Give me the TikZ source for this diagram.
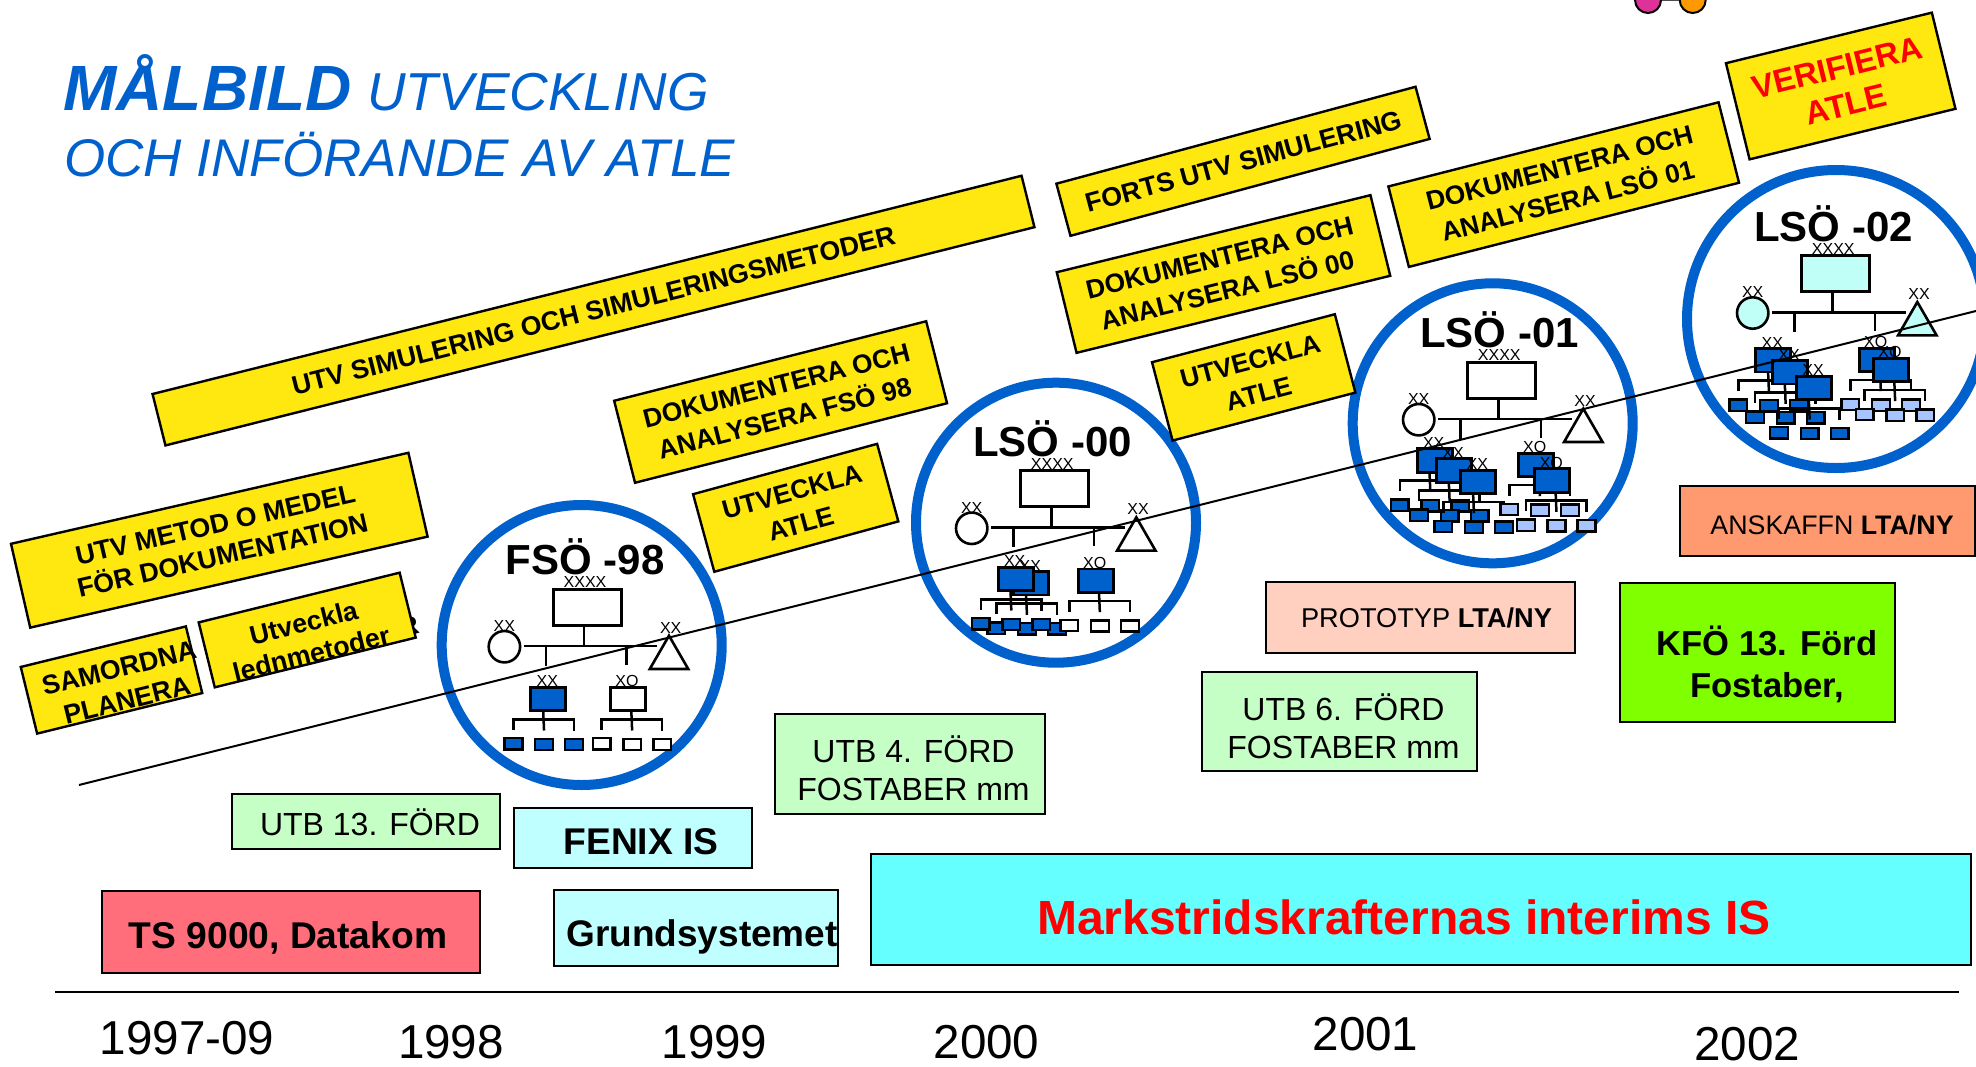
\documentclass[tikz,border=0pt]{standalone}
\usepackage{fontspec}
\setmainfont{Liberation Sans}
\usetikzlibrary{calc,shapes.geometric}
\definecolor{ringblue}{HTML}{0060CC}
\definecolor{unitblue}{HTML}{0060CC}
\definecolor{lightunit}{HTML}{A6C4FF}
\definecolor{paleaqua}{HTML}{BFFFF8}
\definecolor{plan}{HTML}{FFE810}
\definecolor{ltgreen}{HTML}{C6FFC6}
\definecolor{ltcyan}{HTML}{BFFFFF}
\definecolor{midcyan}{HTML}{66FFFF}
\definecolor{salmon}{HTML}{FF6E7A}
\definecolor{peach}{HTML}{FFD0C0}
\definecolor{orangeb}{HTML}{FF9A70}
\definecolor{limeg}{HTML}{80FF00}
\definecolor{pinkd}{HTML}{DD3399}
\definecolor{orangd}{HTML}{FF9900}
\tikzset{
  ring/.style={circle,draw=ringblue,line width=5pt,fill=white,inner sep=0pt},
  planbox/.style={draw=black,fill=plan,line width=1.2pt,inner sep=0pt},
  flat/.style={draw=black,line width=1pt,inner sep=0pt},
  lbl/.style={inner sep=0pt,align=center},
  olin/.style={line width=1.25pt,line cap=butt},
  ubox/.style={draw=black,line width=1.4pt,inner sep=0pt,minimum width=17.5pt,minimum height=11.65pt,anchor=north west},
  sbox/.style={draw=black,line width=1.2pt,inner sep=0pt,minimum width=8.85pt,minimum height=5.65pt,anchor=north west},
  tag/.style={inner sep=0pt,font=\fontsize{8}{9}\selectfont},
  year/.style={inner sep=0pt,font=\fontsize{23.8}{26}\selectfont},
  ttl/.style={inner sep=0pt,anchor=base west,text=ringblue},
}
% name, cx, cy, w, h, angle, text centre, font, text
\newcommand{\planb}[9]{\node[planbox,rotate=#6,minimum width=#4*0.5pt,minimum height=#5*0.5pt] (#1) at (#2,#3) {};
  \node[lbl,rotate=#6,font=\bfseries #8] (#1t) at (#7) {#9};}
\newcommand{\fa}{\fontsize{13.35}{16}\selectfont}
\newcommand{\fb}{\fontsize{13.2}{16.8}\selectfont}
% name, x1, y1, x2, y2, fill
\newcommand{\flatb}[6]{\node[flat,fill=#6,minimum width={(#4-#2)*0.5pt},minimum height={(#5-#3)*0.5pt}] (#1) at ({(#2+#4)/2},{(#3+#5)/2}) {};}
% prefix, title, fill
\newcommand{\orghead}[3]{%
  \node[inner sep=0pt,font=\bfseries\fontsize{21}{24}\selectfont] (#1title) at (33.5,-30.5) {#2};
  \node[ubox,fill=#3,minimum width=34pt,minimum height=18pt] (#1top) at (0,0) {};
  \node[tag] (#1toptag) at (33.3,-5.3) {XXXX};
  \coordinate (#1hb) at (32.3,58.3);
  \coordinate (#1hl) at (-27.7,58.3);
  \coordinate (#1hr) at (105.7,58.3);
  \coordinate (#1dl) at (-5.7,78);
  \coordinate (#1dr) at (75,77);
  \draw[olin] (#1top.south -| #1hb) -- (#1hb);
  \draw[olin] (#1hl) -- (#1hr);
  \draw[olin] (#1dl |- #1hb) -- (#1dl);
  \draw[olin] (#1dr |- #1hb) -- (#1dr);
  \node[circle,draw=black,fill=#3,line width=1.3pt,inner sep=0pt,minimum size=15.7pt] (#1circ) at (-47.3,59) {};
  \node[tag] (#1circtag) at (-47.3,38.3) {XX};
  \node[regular polygon,regular polygon sides=3,draw=black,fill=#3,line width=1.3pt,inner sep=0pt,minimum size=22.2pt] (#1tri) at (117.3,70.2) {};
  \node[tag] (#1tritag) at (119,40) {XX};
}
% name, x, y, label, boxfill, smallfill, dx
\newcommand{\orgunit}[7]{%
  \node[sbox,fill=#6] (#1a) at ({#2-26+#7},{#3+51}) {};
  \node[sbox,fill=#6] (#1b) at ({#2+4.6+#7},{#3+51.5}) {};
  \node[sbox,fill=#6] (#1c) at ({#2+34.6+#7},{#3+51.5}) {};
  \draw[olin] ($(#1a.north)+(0,-7)$) -- ($(#1a.north)+(0,-17.7)$) -| ($(#1c.north)+(0,-7)$);
  \draw[olin] ($(#1b.north)+(0,-7)$) -- ({#2+12.7+#7},#3);
  \node[ubox,fill=#5] (#1u) at (#2,#3) {};
  \node[tag] (#1tag) at ({#2+18},{#3-4.6}) {#4};
}
\begin{document}
\begin{tikzpicture}[x=0.5pt,y=-0.5pt]
\useasboundingbox (0,0) rectangle (1976,1066);
\clip (0,0) rectangle (1976,1066);
% top-edge fragment
\node[circle,draw=black,fill=pinkd,line width=1pt,minimum size=13pt,inner sep=0pt] (dotp) at (1648,0) {};
\node[circle,draw=black,fill=orangd,line width=1pt,minimum size=13pt,inner sep=0pt] (doto) at (1692.7,0) {};
\draw[black!70,line width=1pt] (dotp) -- (doto);
% title
\node[ttl,font=\bfseries\itshape\fontsize{32}{34}\selectfont] (t1) at (63,110) {MÅLBILD};
\node[ttl,font=\itshape\fontsize{26.7}{30}\selectfont] (t2) at (367,110) {UTVECKLING};
\node[ttl,font=\itshape\fontsize{26.5}{30}\selectfont] (t3) at (64,176.5) {OCH INFÖRANDE AV ATLE};
% rings
\node[ring,minimum size=140pt] (r98) at (581.7,645) {};
\node[ring,minimum size=140pt] (r00) at (1056,522.7) {};
\node[ring,minimum size=140pt] (r01) at (1492.7,423.3) {};
\node[ring,minimum size=149pt] (r02) at (1836,319) {};
% FSÖ-98
\begin{scope}[shift={(551.7,587.7)}]
  \orghead{a}{FSÖ -98}{white}
  \orgunit{a1}{-22.3}{98.3}{XX}{unitblue}{unitblue}{0}
  \orgunit{a2}{57.3}{98.3}{XO}{white}{white}{8.5}
\end{scope}
% LSÖ-00
\begin{scope}[shift={(1019,469.3)}]
  \orghead{b}{LSÖ -00}{white}
  \orgunit{b2}{-6.7}{101}{XX}{unitblue}{unitblue}{0}
  \orgunit{b3}{57.7}{98.3}{XO}{unitblue}{white}{8.5}
  \orgunit{b1}{-22.3}{96.7}{XX}{unitblue}{unitblue}{0}
\end{scope}
% LSÖ-01
\begin{scope}[shift={(1466,360.7)}]
  \orghead{c}{LSÖ -01}{white}
  \orgunit{c1}{-50.3}{86.7}{XX}{unitblue}{unitblue}{0}
  \orgunit{c2}{-31}{96.7}{XX}{unitblue}{unitblue}{0}
  \orgunit{c3}{-6.7}{108}{XX}{unitblue}{unitblue}{0}
  \orgunit{c4}{50.7}{91}{XO}{unitblue}{lightunit}{8.5}
  \orgunit{c5}{67.3}{106.7}{XO}{unitblue}{lightunit}{8.5}
\end{scope}
% LSÖ-02
\begin{scope}[shift={(1800,254)}]
  \orghead{d}{LSÖ -02}{paleaqua}
  \orgunit{d1}{-45.7}{93.3}{XX}{unitblue}{unitblue}{0}
  \orgunit{d2}{-29}{105.3}{XX}{unitblue}{unitblue}{0}
  \orgunit{d3}{-5}{121}{XX}{unitblue}{unitblue}{0}
  \orgunit{d4}{57.7}{92.7}{XO}{unitblue}{lightunit}{8.5}
  \orgunit{d5}{72}{102.7}{XO}{unitblue}{lightunit}{8.5}
\end{scope}
% sloping line
\coordinate (lineA) at (79,785);
\coordinate (lineB) at (1976,311);
\draw[line width=1pt] (lineA) -- (lineB);
% hidden glyph fragment
\node[lbl,rotate=14,font=\bfseries\fontsize{13}{16}\selectfont] (frag) at (409,627) {R};
% plan boxes
\planb{p1}{219.3}{540.2}{407.7}{86}{12.9}{219,540}{\fa}{UTV METOD O MEDEL\\FÖR DOKUMENTATION}
\planb{p2}{111.5}{680}{170}{68.6}{13.8}{123,684}{\fontsize{13.4}{16.5}\selectfont}{SAMORDNA\\PLANERA}
\planb{p3}{307.2}{630}{207}{66.9}{13.9}{307.5,638}{\fontsize{13.4}{16}\selectfont}{Utveckla\\lednmetoder}
\planb{p4}{593.5}{310.6}{896}{53}{14.1}{593.5,310.6}{\fa}{UTV SIMULERING OCH SIMULERINGSMETODER}
\planb{p5}{780.6}{402}{322}{84.6}{14.3}{780.6,402}{\fb}{DOKUMENTERA OCH\\ANALYSERA FSÖ 98}
\planb{p6}{795.7}{507.8}{190.8}{80.4}{15.3}{796.5,507.8}{\fb}{UTVECKLA\\ATLE}
\planb{p7}{1243}{161.3}{372}{54}{15.1}{1244,161.3}{\fa}{FORTS UTV SIMULERING}
\planb{p8}{1223.5}{274}{323}{83}{13.8}{1223.5,274}{\fb}{DOKUMENTERA OCH\\ANALYSERA LSÖ 00}
\planb{p9}{1253.7}{377.4}{189}{81}{14.7}{1254.5,377.4}{\fb}{UTVECKLA\\ATLE}
\planb{p10}{1563.7}{184.6}{340.7}{83}{14.3}{1563.7,184.6}{\fb}{DOKUMENTERA OCH\\ANALYSERA LSÖ 01}
\planb{p11}{1840.7}{86}{212}{99}{13.8}{1841.5,86}{\color{red}\fontsize{16.3}{19}\selectfont}{VERIFIERA\\ATLE}
% flat boxes
\flatb{f1}{232}{794}{500}{849}{ltgreen}
\node[lbl,font=\fontsize{16}{19}\selectfont] (f1t) at (370,822.5) {UTB 13. FÖRD};
\flatb{f2}{514}{808}{752}{868}{ltcyan}
\node[lbl,font=\bfseries\fontsize{18.6}{21}\selectfont] (f2t) at (641,842) {FENIX IS};
\flatb{f3}{102}{891}{480}{973}{salmon}
\node[lbl,font=\bfseries\fontsize{18.6}{21}\selectfont] (f3t) at (288,937.5) {TS 9000, Datakom};
\flatb{f4}{554}{890}{838}{966}{ltcyan}
\node[lbl,font=\bfseries\fontsize{18.5}{21}\selectfont] (f4t) at (702,936.5) {Grundsystemet};
\flatb{f5}{871}{854}{1971}{965}{midcyan}
\node[lbl,text=red,font=\bfseries\fontsize{24}{29}\selectfont] (f5t) at (1404,917) {Markstridskrafternas interims IS};
\flatb{f6}{775}{714}{1045}{814}{ltgreen}
\node[lbl,font=\fontsize{16}{19}\selectfont] (f6t) at (913.5,768) {UTB 4. FÖRD\\FOSTABER mm};
\flatb{f7}{1202}{672}{1477}{771}{ltgreen}
\node[lbl,font=\fontsize{16}{19}\selectfont] (f7t) at (1343.5,726) {UTB 6. FÖRD\\FOSTABER mm};
\flatb{f8}{1266}{582}{1575}{653}{peach}
\node[lbl,font=\fontsize{13.6}{16}\selectfont] (f8t) at (1426.5,618) {PROTOTYP \textbf{LTA/NY}};
\flatb{f9}{1680}{486}{1975}{556}{orangeb}
\node[lbl,font=\fontsize{13.4}{16}\selectfont] (f9t) at (1832,525) {ANSKAFFN \textbf{LTA/NY}};
\flatb{f10}{1620}{583}{1895}{722}{limeg}
\node[lbl,font=\bfseries\fontsize{17.3}{21}\selectfont] (f10t) at (1767,664) {KFÖ 13. Förd\\Fostaber,};
% time axis
\coordinate (axA) at (55,992);
\coordinate (axB) at (1959,992);
\draw[line width=1pt] (axA) -- (axB);
\node[year] (y1) at (187,1038) {1997-09};
\node[year] (y2) at (451,1042) {1998};
\node[year] (y3) at (714.5,1042) {1999};
\node[year] (y4) at (986.5,1042) {2000};
\node[year] (y5) at (1365.5,1034) {2001};
\node[year] (y6) at (1747,1044) {2002};
\end{tikzpicture}
\end{document}
